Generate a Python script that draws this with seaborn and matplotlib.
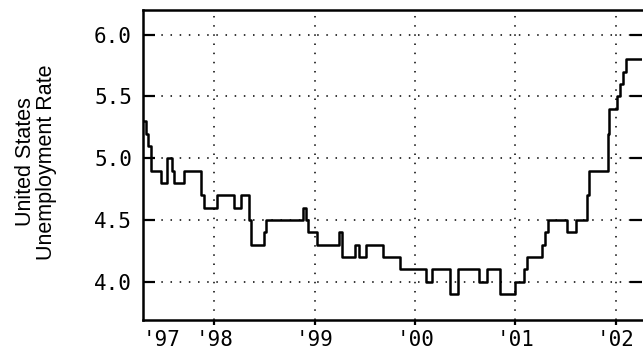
import matplotlib
matplotlib.use("Agg")
import matplotlib.pyplot as plt
import seaborn as sns
from matplotlib import font_manager
from matplotlib.ticker import FormatStrFormatter

# Step points (decimal year, rate in %)
years = [1997.29, 1997.32, 1997.34, 1997.37, 1997.47, 1997.53, 1997.58, 1997.60,
         1997.70, 1997.87, 1997.90, 1998.03, 1998.20, 1998.27, 1998.35, 1998.37,
         1998.50, 1998.52, 1998.88, 1998.91, 1998.93, 1999.02, 1999.24, 1999.27,
         1999.40, 1999.44, 1999.51, 1999.68, 1999.85, 2000.11, 2000.17, 2000.35,
         2000.43, 2000.64, 2000.72, 2000.85, 2001.00, 2001.08, 2001.11, 2001.26,
         2001.29, 2001.32, 2001.51, 2001.60, 2001.71, 2001.73, 2001.92, 2001.93,
         2002.01, 2002.04, 2002.07, 2002.10, 2002.27]
rates = [5.3, 5.2, 5.1, 4.9, 4.8, 5.0, 4.9, 4.8,
         4.9, 4.7, 4.6, 4.7, 4.6, 4.7, 4.5, 4.3,
         4.4, 4.5, 4.6, 4.5, 4.4, 4.3, 4.4, 4.2,
         4.3, 4.2, 4.3, 4.2, 4.1, 4.0, 4.1, 3.9,
         4.1, 4.0, 4.1, 3.9, 4.0, 4.1, 4.2, 4.3,
         4.4, 4.5, 4.4, 4.5, 4.7, 4.9, 5.2, 5.4,
         5.5, 5.6, 5.7, 5.8, 5.8]

tick_years = [1998, 1999, 2000, 2001, 2002]
tick_labels = ["'98", "'99", "'00", "'01", "'02"]
first_label = "'97"
y_ticks = [4.0, 4.5, 5.0, 5.5, 6.0]


def pick_font(names):
    for n in names:
        try:
            font_manager.findfont(font_manager.FontProperties(family=n),
                                  fallback_to_default=False)
            return n
        except ValueError:
            continue
    return "DejaVu Sans"


sns.set_style("white")
tick_font = pick_font(["Liberation Sans Narrow", "DejaVu Sans Mono"])
label_font = pick_font(["Liberation Sans", "Arial", "DejaVu Sans"])
tick_size = 17 if tick_font == "Liberation Sans Narrow" else 15

fig = plt.figure(figsize=(6.43, 3.54), dpi=100)
ax = fig.add_axes([143 / 643, 1 - 320 / 354, 499 / 643, 310 / 354])

sns.lineplot(x=years, y=rates, ax=ax, color="black", linewidth=1.8,
             drawstyle="steps-post")

ax.set_xlim(1997.29, 2002.26)
ax.set_ylim(3.69, 6.2)

ax.set_xticks(tick_years)
ax.set_xticklabels(tick_labels)
ax.set_yticks(y_ticks)
ax.yaxis.set_major_formatter(FormatStrFormatter("%.1f"))

for lab in ax.get_xticklabels() + ax.get_yticklabels():
    lab.set_fontfamily(tick_font)
    lab.set_fontsize(tick_size)
    lab.set_color("black")

ax.tick_params(axis="y", direction="in", length=8.5, width=1.6,
               left=True, right=True, pad=8, colors="black")
ax.tick_params(axis="x", direction="out", length=3.5, width=1.6,
               bottom=True, pad=4, colors="black")

ax.grid(True, color="black", linestyle=(0, (1, 5)), linewidth=1.1)

for side in ["left", "bottom", "top"]:
    ax.spines[side].set_visible(True)
    ax.spines[side].set_color("black")
    ax.spines[side].set_linewidth(1.8)
ax.spines["right"].set_visible(False)

# '97 label sits at the left edge (no tick / grid line there)
ax.annotate(first_label, xy=(1997.29, 0), xycoords=("data", "axes fraction"),
            xytext=(0, -7.5), textcoords="offset points", ha="left", va="top",
            fontfamily=tick_font, fontsize=tick_size, color="black")

ax.set_xlabel("")
ax.set_ylabel("")
fig.text(36 / 643, 1 - 162 / 354, "United States\nUnemployment Rate",
         rotation=90, ha="center", va="center", multialignment="center",
         fontfamily=label_font, fontsize=15.5, linespacing=0.95, color="black")

fig.savefig("out.png", dpi=100)
